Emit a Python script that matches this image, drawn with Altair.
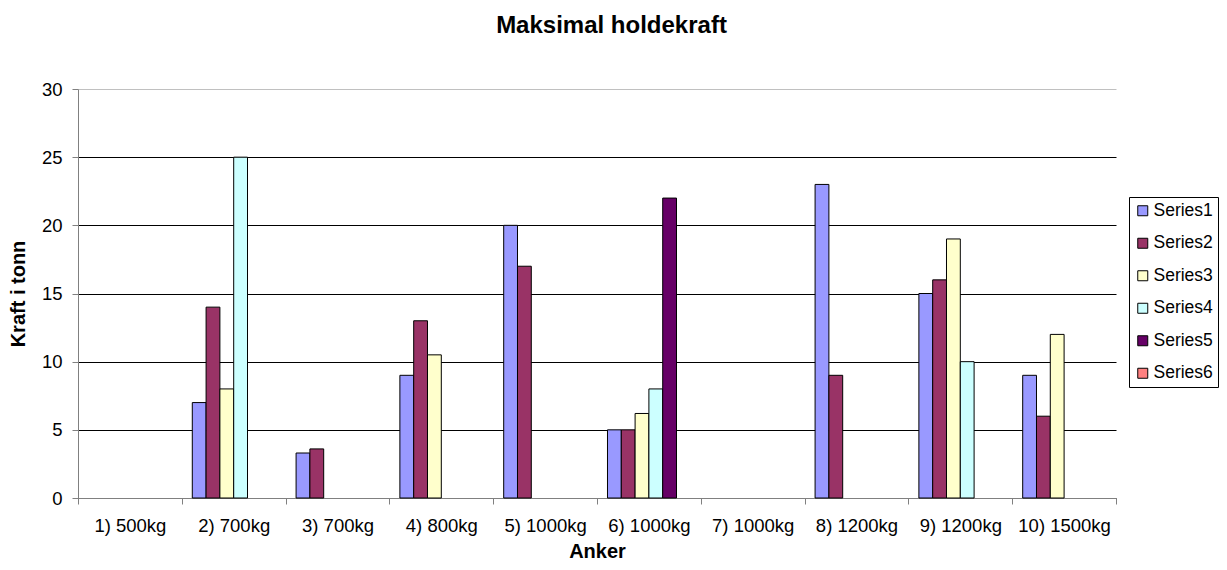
import altair as alt
import pandas as pd

anchors = ["1) 500kg", "2) 700kg", "3) 700kg", "4) 800kg", "5) 1000kg",
           "6) 1000kg", "7) 1000kg", "8) 1200kg", "9) 1200kg", "10) 1500kg"]
series = ["Series1", "Series2", "Series3", "Series4", "Series5", "Series6"]
colors = ["#9999FF", "#993366", "#FFFFCC", "#CCFFFF", "#660066", "#FF8080"]

s1 = [0, 7, 3.3, 9, 20, 5, 0, 23, 15, 9]
s2 = [0, 14, 3.6, 13, 17, 5, 0, 9, 16, 6]
s3 = [0, 8, 0, 10.5, 0, 6.2, 0, 0, 19, 12]
s4 = [0, 25, 0, 0, 0, 8, 0, 0, 10, 0]
s5 = [0, 0, 0, 0, 0, 22, 0, 0, 0, 0]
s6 = [0, 0, 0, 0, 0, 0, 0, 0, 0, 0]

chart_title = ["Maksimal holdekraft"]

rows = []
for name, vals in zip(series, [s1, s2, s3, s4, s5, s6]):
    for a, v in zip(anchors, vals):
        if v > 0:
            rows.append({"Anker": a, "Serie": name, "Kraft": v})
df = pd.DataFrame(rows)

FONT = "Liberation Sans"

bars = alt.Chart(df).mark_bar(stroke="black", strokeWidth=1).encode(
    x=alt.X("Anker:N",
            scale=alt.Scale(domain=anchors, paddingInner=0, paddingOuter=0),
            axis=alt.Axis(title="Anker", labelAngle=0, tickBand="extent",
                          grid=False, domainColor="#808080", tickColor="#808080",
                          tickSize=6, labelPadding=12.5, labelFontSize=18.5,
                          labelFont=FONT, labelColor="black",
                          titleFont=FONT, titleFontSize=20, titleFontWeight="bold",
                          titleColor="black", titlePadding=6)),
    xOffset=alt.XOffset("Serie:N",
                        scale=alt.Scale(domain=series, paddingInner=0, paddingOuter=0.76)),
    y=alt.Y("Kraft:Q",
            scale=alt.Scale(domain=[0, 30], nice=False),
            axis=alt.Axis(title="Kraft i tonn", values=[0, 5, 10, 15, 20, 25, 30],
                          grid=True,
                          gridColor={"condition": {"test": "datum.value === 30", "value": "#c0c0c0"},
                                     "value": "black"},
                          gridWidth=1,
                          domainColor="#808080", tickColor="#808080", tickSize=6,
                          labelPadding=10, labelFontSize=18.5, labelFont=FONT,
                          labelColor="black",
                          titleFont=FONT, titleFontSize=20, titleFontWeight="bold",
                          titleColor="black", titlePadding=13)),
    color=alt.Color("Serie:N",
                    scale=alt.Scale(domain=series, range=colors),
                    legend=alt.Legend(title=None, orient="none", legendX=1051, legendY=108,
                                      strokeColor="black", fillColor="white", padding=5,
                                      symbolType="square", symbolSize=100,
                                      symbolStrokeColor="black", symbolStrokeWidth=1,
                                      labelFontSize=17.5, labelFont=FONT, labelColor="black",
                                      rowPadding=13.5, labelOffset=2)),
)

title_df = pd.DataFrame({"t": chart_title})
title_text = alt.Chart(title_df).mark_text(
    font=FONT, fontSize=24, fontWeight="bold", color="black",
    align="center", baseline="alphabetic"
).encode(
    text="t:N",
    x=alt.value(533.5),
    y=alt.value(-56),
)

chart = alt.layer(bars, title_text).properties(
    width=1038,
    height=409,
    autosize=alt.AutoSizeParams(type="none"),
    padding={"left": 70, "top": 81, "right": 103, "bottom": 64},
    background="white",
).configure_view(stroke=None)

chart.save("out.html", embed_options={"renderer": "svg", "actions": False})
